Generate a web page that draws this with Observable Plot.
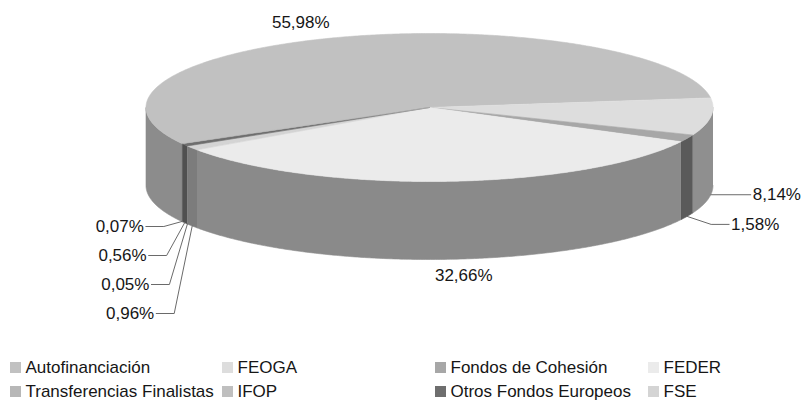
<!DOCTYPE html>
<html><head><meta charset="utf-8">
<script src="https://cdn.jsdelivr.net/npm/d3@7"></script>
<script src="https://cdn.jsdelivr.net/npm/@observablehq/plot@0.6"></script>
<style>body{margin:0;background:#fff;} #chart svg{display:block;}</style>
</head><body><div id="chart"></div>
<script>
// ---- data (slice order, clockwise) ----
const categories = ["Autofinanciación","FEOGA","Fondos de Cohesión","FEDER","FSE","IFOP","Otros Fondos Europeos","Transferencias Finalistas"];
const values = [55.98, 8.14, 1.58, 32.66, 0.96, 0.05, 0.56, 0.07];
const valueLabels = ["55,98%","8,14%","1,58%","32,66%","0,96%","0,05%","0,56%","0,07%"];
const legendOrder = ["Autofinanciación","FEOGA","Fondos de Cohesión","FEDER","Transferencias Finalistas","IFOP","Otros Fondos Europeos","FSE"];
const topColors  = ["#c1c1c1","#dddddd","#a7a7a7","#ebebeb","#d4d4d4","#bfbfbf","#6e6e6e","#b7b7b7"];
const sideColors = ["#8c8c8c","#8f8f8f","#5a5a5a","#8a8a8a","#7c7c7c","#858585","#505050","#808080"];

// ---- layout ----
const W = 802, H = 400;
const cx = 429, cy = 107, rx = 283.5, ry = 74, depth = 78;
const startDeg = 241.0;
const rad = d => d * Math.PI / 180;
const FONT = "Liberation Sans, Arial, sans-serif";
const FS = 17;

const pie = d3.pie().sort(null).value(d => d)
  .startAngle(rad(startDeg)).endAngle(rad(startDeg) + 2 * Math.PI);
const arcs = pie(values);
const pt = (a, dz = 0) => [cx + rx * Math.sin(a), cy - ry * Math.cos(a) + dz];
function arcPts(a0, a1, dz) {
  const n = Math.max(2, Math.ceil(Math.abs(a1 - a0) / rad(0.5)));
  const out = [];
  for (let k = 0; k <= n; k++) out.push(pt(a0 + (a1 - a0) * k / n, dz));
  return out;
}

// walls (front half only)
const wallPts = [];
arcs.forEach((a, i) => {
  for (const k of [0, 2 * Math.PI]) {
    const lo = Math.max(a.startAngle, Math.PI / 2 + k);
    const hi = Math.min(a.endAngle, 3 * Math.PI / 2 + k);
    if (hi > lo) {
      const id = "w" + i + "_" + k;
      const ps = [...arcPts(lo, hi, 0), ...arcPts(hi, lo, depth)];
      ps.forEach(([x, y]) => wallPts.push({id, x, y, key: categories[i] + " ·lado"}));
    }
  }
});
// tops
const topPts = [];
arcs.forEach((a, i) => {
  const id = "t" + i;
  const ps = [[cx, cy], ...arcPts(a.startAngle, a.endAngle, 0)];
  ps.forEach(([x, y]) => topPts.push({id, x, y, key: categories[i]}));
});

// labels & leader lines
const mid = a => (a.startAngle + a.endAngle) / 2;
const texts = [];
const leaders = [];
arcs.forEach((a, i) => {
  const m = mid(a);
  const top = pt(m, 0), bot = pt(m, depth);
  const t = valueLabels[i];
  if (i === 0) texts.push({x: top[0] - 40, y: top[1] - 15, t, anchor: "middle"});
  else if (i === 3) texts.push({x: bot[0] + 16, y: bot[1] + 16, t, anchor: "middle"});
  else if (i === 1) {
    leaders.push({id: i, x: bot[0], y: bot[1]}, {id: i, x: bot[0] + 40, y: bot[1]});
    texts.push({x: bot[0] + 42, y: bot[1], t, anchor: "start"});
  } else if (i === 2) {
    const e = [bot[0] + 24, bot[1] + 8];
    leaders.push({id: i, x: bot[0], y: bot[1]}, {id: i, x: e[0], y: e[1]}, {id: i, x: e[0] + 18, y: e[1]});
    texts.push({x: e[0] + 20, y: e[1], t, anchor: "start"});
  } else {
    const rank = 7 - i; // 0,07 top ... 0,96 bottom
    const ly = 226 + 29 * rank;
    const ex = bot[0] - 18;
    leaders.push({id: i, x: bot[0], y: bot[1]}, {id: i, x: ex, y: ly}, {id: i, x: ex - 18, y: ly});
    texts.push({x: ex - 20, y: ly, t, anchor: "end"});
  }
});

// legend
const legCols = [10, 222, 435, 648], legRows = [367.5, 391.5], sw = 11;
const legend = legendOrder.map((c, k) => {
  const x = legCols[k % 4], y = legRows[Math.floor(k / 4)];
  return {key: c, x1: x, x2: x + sw, y1: y - sw / 2, y2: y + sw / 2, tx: x + sw + 4, ty: y};
});

const colorDomain = [...categories, ...categories.map(c => c + " ·lado")];
const colorRange = [...topColors, ...sideColors];

const chart = Plot.plot({
  width: W, height: H, margin: 0,
  x: {domain: [0, W], range: [0, W], axis: null},
  y: {domain: [0, H], range: [0, H], axis: null},
  color: {type: "ordinal", domain: colorDomain, range: colorRange},
  style: {background: "#fff", fontFamily: FONT},
  marks: [
    Plot.line(wallPts, {x: "x", y: "y", z: "id", fill: "key", stroke: "key", strokeWidth: 0.6, curve: "linear"}),
    Plot.line(topPts, {x: "x", y: "y", z: "id", fill: "key", stroke: "key", strokeWidth: 0.6, curve: "linear"}),
    Plot.line(leaders, {x: "x", y: "y", z: "id", stroke: "#6a6a6a", strokeWidth: 1}),
    ...["start", "middle", "end"].map(an => Plot.text(texts.filter(d => d.anchor === an), {
      x: "x", y: "y", text: "t", textAnchor: an, fontSize: FS, fill: "#161616", fontFamily: FONT})),
    Plot.rect(legend, {x1: "x1", x2: "x2", y1: "y1", y2: "y2", fill: "key"}),
    Plot.text(legend, {x: "tx", y: "ty", text: "key", textAnchor: "start", fontSize: FS, fill: "#161616", fontFamily: FONT})
  ]
});
document.getElementById("chart").append(chart);
</script>
</body></html>
